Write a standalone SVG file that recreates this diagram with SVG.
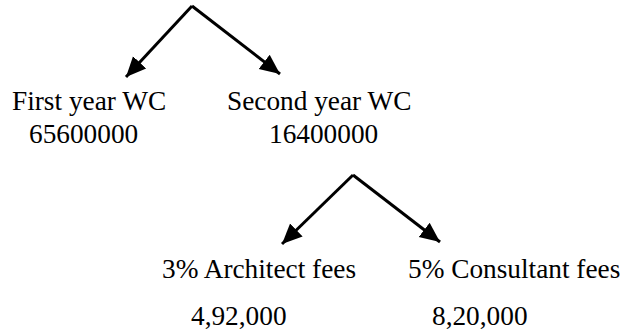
<svg xmlns="http://www.w3.org/2000/svg" width="625" height="331" viewBox="0 0 625 331">
  <style>
    .label { font-family: "Times New Roman", "Liberation Serif", "DejaVu Serif", serif; font-size: 27.3px; fill: #000; }
    .edge { stroke: #000; stroke-width: 3; fill: none; marker-end: url(#head); }
  </style>
  <defs>
    <marker id="head" markerUnits="userSpaceOnUse" markerWidth="22" markerHeight="22" viewBox="0 0 22 22" refX="20" refY="11" orient="auto">
      <path d="M0,2 L20,11 L0,20 Z" fill="#000"/>
    </marker>
  </defs>
  <rect width="625" height="331" fill="#fff"/>
  <g id="connectors">
    <line class="edge" x1="192" y1="6" x2="126" y2="77"/>
    <line class="edge" x1="192" y1="6" x2="280" y2="74"/>
    <line class="edge" x1="353" y1="175" x2="282" y2="244"/>
    <line class="edge" x1="353" y1="175" x2="440" y2="242"/>
  </g>
  <g id="first-year" class="label" font-family="Liberation Serif, serif">
    <text x="12" y="110">First year WC</text>
    <text x="29" y="143">65600000</text>
  </g>
  <g id="second-year" class="label" font-family="Liberation Serif, serif">
    <text x="227" y="110">Second year WC</text>
    <text x="269" y="143">16400000</text>
  </g>
  <g id="architect-fees" class="label" font-family="Liberation Serif, serif">
    <text x="162" y="278">3% Architect fees</text>
    <text x="191" y="325">4,92,000</text>
  </g>
  <g id="consultant-fees" class="label" font-family="Liberation Serif, serif">
    <text x="408" y="278">5% Consultant fees</text>
    <text x="432" y="325">8,20,000</text>
  </g>
</svg>
